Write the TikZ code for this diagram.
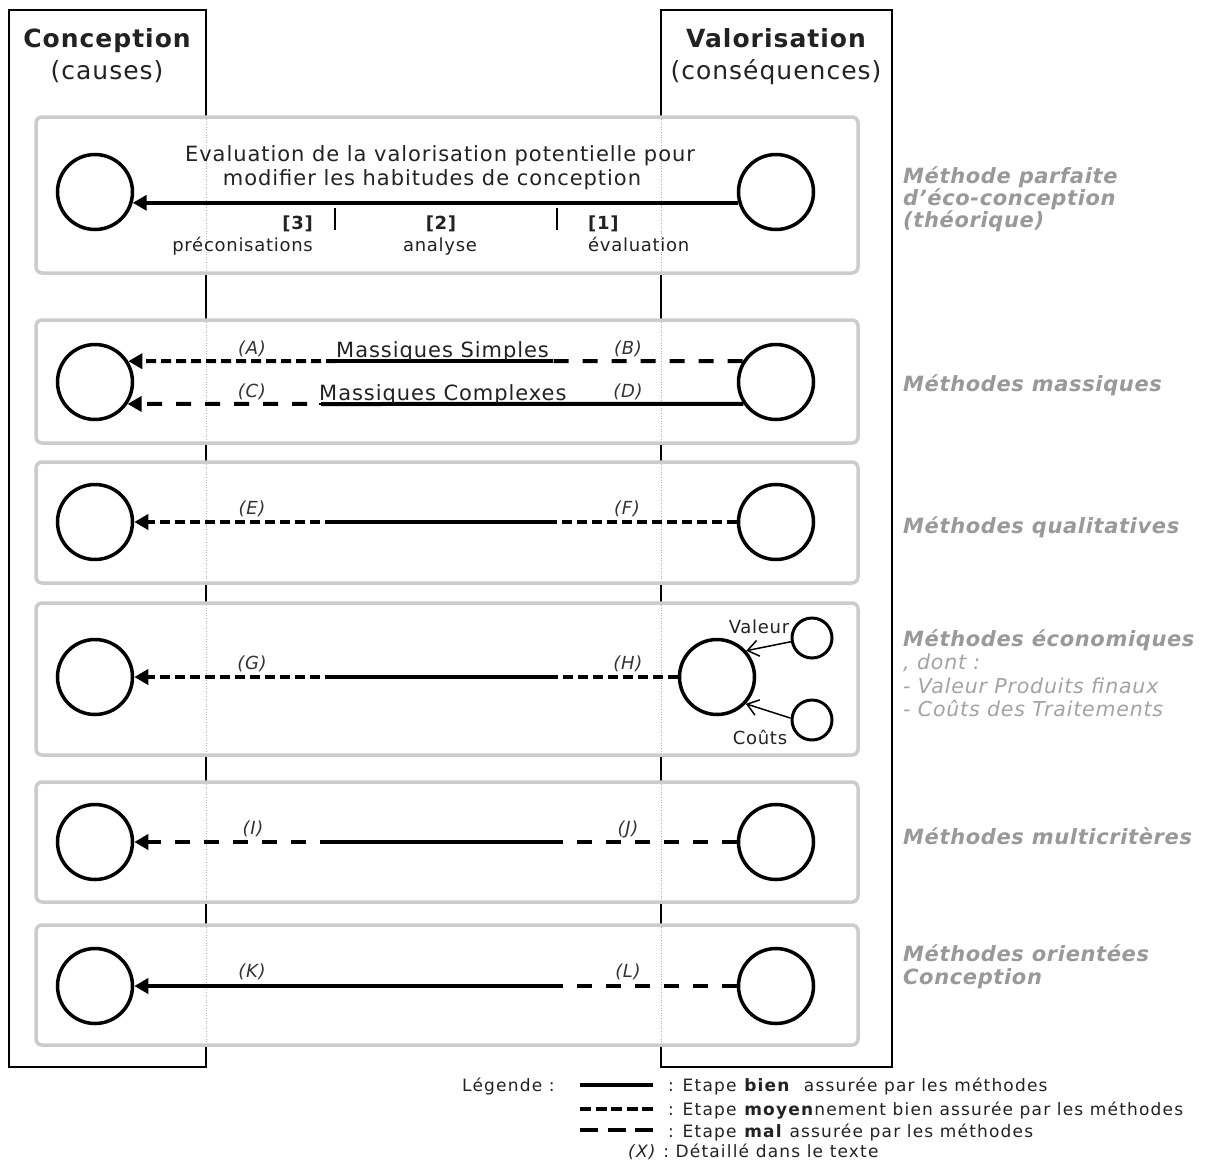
\documentclass[tikz,border=0pt]{standalone}
\usepackage{fontspec}
\setmainfont{DejaVu Sans}
\newfontfamily\mainf{DejaVu Sans}[LetterSpace=4.5]
\newfontfamily\smallf{DejaVu Sans}[LetterSpace=4]
\newfontfamily\methf{DejaVu Sans}[LetterSpace=3]
\newfontfamily\headf{DejaVu Sans}[LetterSpace=4]
\newfontfamily\legf{DejaVu Sans}[LetterSpace=7]
\usetikzlibrary{arrows.meta}
\definecolor{panelgray}{HTML}{CCCCCC}
\definecolor{methgray}{HTML}{999999}
\definecolor{subgray}{HTML}{A3A3A3}
\definecolor{txt}{HTML}{222222}
\definecolor{labc}{HTML}{333333}
\begin{document}
\begin{tikzpicture}[x=1pt,y=-1pt,
  colbox/.style={draw=black, line width=2pt},
  panel/.style={draw=panelgray, line width=3.5pt, rounded corners=6pt, fill=white},
  faint/.style={draw=gray!60, line width=0.6pt, dotted},
  bigc/.style={circle, draw=black, line width=3.5pt, minimum size=75pt, inner sep=0pt, fill=white},
  smallc/.style={circle, draw=black, line width=3pt, minimum size=40pt, inner sep=0pt},
  good/.style={line width=4pt},
  medium/.style={line width=4pt, dash pattern=on 10pt off 5pt},
  poor/.style={line width=4pt, dash pattern=on 15pt off 14pt},
  tip/.style={-{Triangle[length=14pt,width=15pt]}},
  tick/.style={line width=2pt},
  thinarrow/.style={line width=1.5pt, -{Straight Barb[length=11pt,width=16pt,line width=1.5pt]}},
  uline/.style={line width=1.8pt},
  headr/.style={font=\headf\fontsize{25pt}{30pt}\selectfont, text=txt, inner sep=0pt, anchor=base},
  headb/.style={font=\headf\bfseries\fontsize{25pt}{30pt}\selectfont, text=txt, inner sep=0pt, anchor=base},
  big/.style={font=\mainf\fontsize{21pt}{25pt}\selectfont, text=txt, inner sep=0pt, anchor=base},
  small/.style={font=\smallf\fontsize{18pt}{21pt}\selectfont, text=txt, inner sep=0pt, anchor=base},
  smallb/.style={font=\smallf\bfseries\fontsize{18pt}{21pt}\selectfont, text=txt, inner sep=0pt, anchor=base},
  lab/.style={font=\smallf\itshape\fontsize{18pt}{21pt}\selectfont, text=labc, inner sep=0pt, anchor=base},
  meth/.style={font=\methf\bfseries\itshape\fontsize{21pt}{25pt}\selectfont, text=methgray, inner sep=0pt, anchor=base west},
  methsub/.style={font=\smallf\itshape\fontsize{20.5pt}{24pt}\selectfont, text=subgray, inner sep=0pt, anchor=base west},
  leg/.style={font=\legf\fontsize{17pt}{20pt}\selectfont, text=txt, inner sep=0pt, anchor=base west}
]
\useasboundingbox[fill=white] (0,0) rectangle (1212,1167);

% column boxes
\draw[colbox] (9,10) rectangle (206,1067);
\draw[colbox] (661,10) rectangle (892,1067);

% panels
\draw[panel] (36,117) rectangle (858,273);
\draw[panel] (36,320) rectangle (858,443);
\draw[panel] (36,462) rectangle (858,583);
\draw[panel] (36,603) rectangle (858,755);
\draw[panel] (36,782) rectangle (858,902);
\draw[panel] (36,925) rectangle (858,1045);
\foreach \t/\b in {117/273, 320/443, 462/583, 603/755, 782/902, 925/1045}{
  \draw[faint] (206,\t+2) -- (206,\b-2);
  \draw[faint] (661,\t+2) -- (661,\b-2);
}

% headers
\node[headb] (hc) at (107,47) {Conception};
\node[headr] (hcs) at (107,79) {(causes)};
\node[headb] (hv) at (776,47) {Valorisation};
\node[headr] (hvs) at (776,79) {(conséquences)};

% circles
\node[bigc] (l1) at (95,192) {};
\node[bigc] (r1) at (776,192) {};
\node[bigc] (l2) at (95,382) {};
\node[bigc] (r2) at (776,382) {};
\node[bigc] (l3) at (95,522) {};
\node[bigc] (r3) at (776,522) {};
\node[bigc] (l4) at (95,677) {};
\node[bigc] (r4) at (717,677) {};
\node[bigc] (l5) at (95,842) {};
\node[bigc] (r5) at (776,842) {};
\node[bigc] (l6) at (95,986) {};
\node[bigc] (r6) at (776,986) {};
\node[smallc] (sv) at (812,638) {};
\node[smallc] (sc) at (812,720) {};

% panel 1
\draw[good,tip] (r1.196) -- (l1.-16);
\coordinate (t1a) at (335,208); \coordinate (t1b) at (335,230);
\coordinate (t2a) at (557,208); \coordinate (t2b) at (557,230);
\draw[tick] (t1a) -- (t1b);
\draw[tick] (t2a) -- (t2b);
\node[big] (ev1) at (440,161) {Evaluation de la valorisation potentielle pour};
\node[big] (ev2) at (432,185) {modifier les habitudes de conception};
\node[smallb, anchor=base east] (n3) at (313,229) {[3]};
\node[small, anchor=base east] (p3) at (313,251) {préconisations};
\node[smallb] (n2) at (441,229) {[2]};
\node[small] (p2) at (440,251) {analyse};
\node[smallb, anchor=base west] (n1) at (588,229) {[1]};
\node[small, anchor=base west] (p1) at (588,251) {évaluation};

% panel 2
\coordinate (a2a) at (553,361); \coordinate (b2a) at (336,361);
\coordinate (b2c) at (336,404);
\draw[poor] (r2.148) -- (a2a);
\draw[good] (a2a) -- (b2a);
\draw[medium,tip] (b2a) -- (l2.32);
\draw[good] (r2.214) -- (b2c);
\draw[poor,tip] (b2c) -- (l2.-34);
\node[big, anchor=base west] (ms) at (336,357) {Massiques Simples};
\node[big, anchor=base west] (mc) at (319,400) {Massiques Complexes};
\draw[uline] (ms.west |- b2a) -- (ms.east |- b2a);
\draw[uline] (mc.west |- b2c) -- (mc.east |- b2c);
\node[lab] (la) at (252,354) {(A)};
\node[lab] (lb) at (628,354) {(B)};
\node[lab] (lc) at (252,397) {(C)};
\node[lab] (ld) at (628,397) {(D)};

% panel 3
\coordinate (a3) at (553,522); \coordinate (b3) at (335,522);
\draw[medium] (r3) -- (a3);
\draw[good] (a3) -- (b3);
\draw[medium,tip] (b3) -- (l3);
\node[lab] (le) at (252,514) {(E)};
\node[lab] (lf) at (627,514) {(F)};

% panel 4
\coordinate (a4) at (553,677); \coordinate (b4) at (335,677);
\draw[medium] (r4) -- (a4);
\draw[good] (a4) -- (b4);
\draw[medium,tip] (b4) -- (l4);
\node[lab] (lg) at (252,669) {(G)};
\node[lab] (lh) at (628,669) {(H)};
\draw[thinarrow] (sv.190) -- (r4.42);
\draw[thinarrow] (sc.175) -- (r4.-43);
\node[small] (tv) at (759,633) {Valeur};
\node[small] (tc) at (760,744) {Coûts};

% panel 5
\coordinate (a5) at (553,842); \coordinate (b5) at (335,842);
\draw[poor] (r5) -- (a5);
\draw[good] (a5) -- (b5);
\draw[poor,tip] (b5) -- (l5);
\node[lab] (li) at (253,834) {(I)};
\node[lab] (lj) at (628,834) {(J)};

% panel 6
\coordinate (a6) at (553,986); \coordinate (b6) at (335,986);
\draw[poor] (r6) -- (a6);
\draw[good] (a6) -- (b6);
\draw[good,tip] (b6) -- (l6);
\node[lab] (lk) at (252,977) {(K)};
\node[lab] (ll) at (628,977) {(L)};

% right labels
\node[meth] (m1a) at (903,183) {Méthode parfaite};
\node[meth] (m1b) at (903,205) {d’éco-conception};
\node[meth] (m1c) at (903,227) {(théorique)};
\node[meth] (m2) at (903,391) {Méthodes massiques};
\node[meth] (m3) at (903,533) {Méthodes qualitatives};
\node[meth] (m4) at (903,646) {Méthodes économiques};
\node[methsub] (m4a) at (903,669) {, dont :};
\node[methsub] (m4b) at (903,693) {- Valeur Produits finaux};
\node[methsub] (m4c) at (903,716) {- Coûts des Traitements};
\node[meth] (m5) at (903,844) {Méthodes multicritères};
\node[meth] (m6a) at (903,961) {Méthodes orientées};
\node[meth] (m6b) at (903,984) {Conception};

% legend
\node[leg] (lg0) at (462,1091) {Légende :};
\coordinate (g1a) at (580,1085); \coordinate (g1b) at (653,1085);
\coordinate (g2a) at (580,1109); \coordinate (g2b) at (653,1109);
\coordinate (g3a) at (580,1130); \coordinate (g3b) at (653,1130);
\draw[line width=3.5pt] (g1a) -- (g1b);
\draw[line width=4.5pt, dash pattern=on 11pt off 4.5pt] (g2a) -- (g2b);
\draw[line width=4pt, dash pattern=on 18pt off 9.5pt] (g3a) -- (g3b);
\node[leg] (lg1) at (668,1091) {: Etape \textbf{bien}\ \ assurée par les méthodes};
\node[leg] (lg2) at (668,1115) {: Etape \textbf{moyen}nement bien assurée par les méthodes};
\node[leg] (lg3) at (668,1137) {: Etape \textbf{mal}\ assurée par les méthodes};
\node[leg] (lg4) at (628,1157) {\textit{(X)}\ : Détaillé dans le texte};
\end{tikzpicture}
\end{document}
